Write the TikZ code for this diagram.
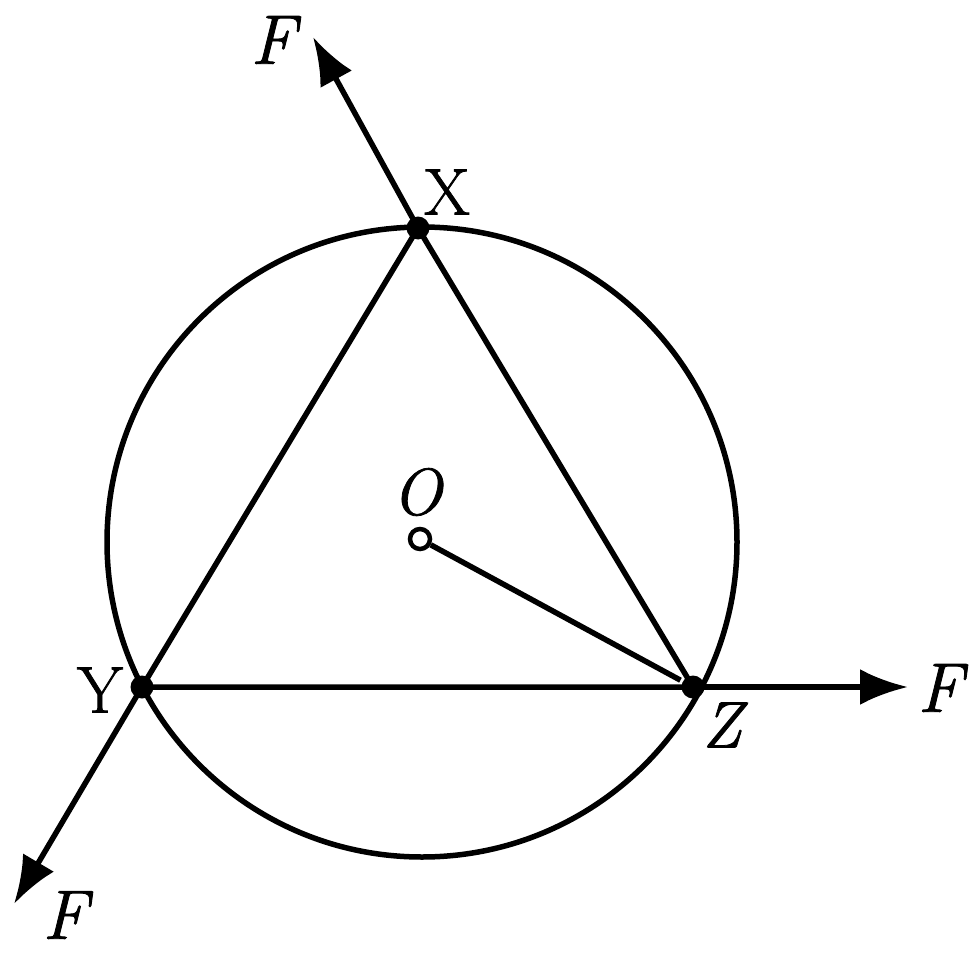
\documentclass[tikz,border=0pt]{standalone}
\usepackage{fontspec}
\newfontfamily\lblfont{Latin Modern Roman}[FakeBold=1.2]
\usetikzlibrary{arrows.meta}
\begin{document}
\begin{tikzpicture}[x=1pt,y=-1pt,line width=5.5pt,
  lbl/.style={font=\lblfont\fontsize{66}{76}\selectfont, inner sep=0pt},
  ilbl/.style={font=\lblfont\fontsize{66}{76}\selectfont\itshape, inner sep=0pt},
  flbl/.style={font=\lblfont\fontsize{70}{80}\selectfont\itshape, inner sep=0pt},
  force/.style={-{Latex[length=48pt,width=36pt]}},
  dot/.style={circle,fill=black,inner sep=0pt,minimum size=23pt},
  hollow/.style={circle,draw,fill=white,line width=4.5pt,inner sep=0pt,minimum size=20pt}]
\useasboundingbox (0,0) rectangle (977,955);
\coordinate (C) at (422,542);
\draw (C) circle[radius=315];
\coordinate (Xp) at (418,228);
\coordinate (Yp) at (142,687);
\coordinate (Zp) at (693,687);
\coordinate (FX) at (313,37);
\coordinate (FY) at (14,904);
\coordinate (FZ) at (908,687);
\draw (Xp) -- (Yp) -- (Zp) -- cycle;
\draw[force] (Xp) -- (FX);
\draw[force] (Yp) -- (FY);
\draw[force] (Zp) -- (FZ);
\node[dot] (X) at (Xp) {};
\node[dot] (Y) at (Yp) {};
\node[dot] (Z) at (Zp) {};
\node[hollow] (O) at (420,539) {};
\draw (O) -- (Z);
\node[lbl] (lX) at (447,192) {X};
\node[lbl] (lY) at (100,690) {Y};
\node[ilbl] (lZ) at (722,725) {Z};
\node[ilbl] (lO) at (417,492) {O};
\node[flbl] (lF1) at (273,40) {F};
\node[flbl] (lF2) at (940,688) {F};
\node[flbl] (lF3) at (65,915) {F};
\end{tikzpicture}
\end{document}
